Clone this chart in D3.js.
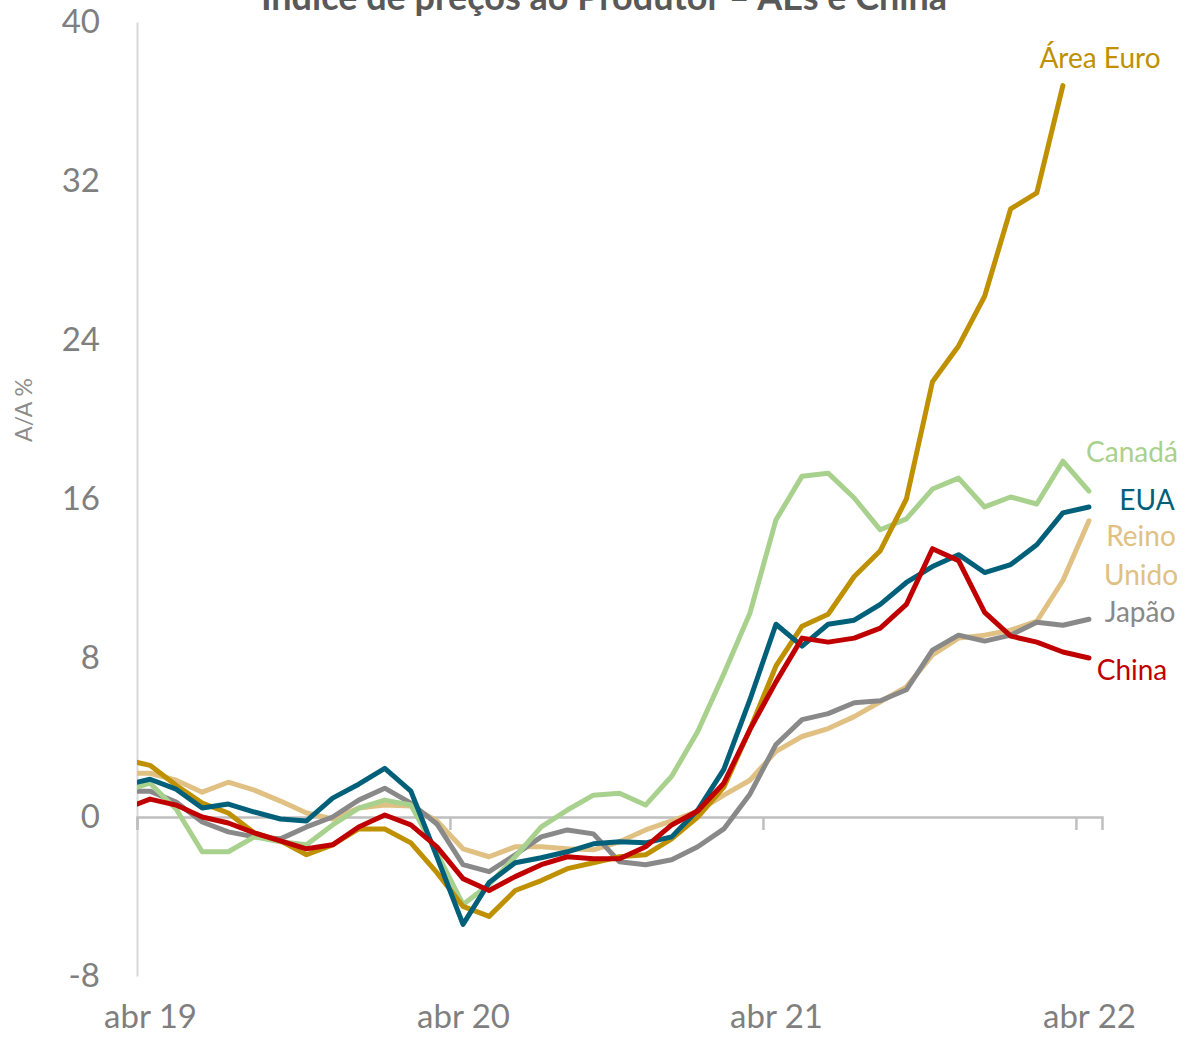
<!DOCTYPE html>
<html>
<head>
<meta charset="utf-8">
<script src="https://cdn.jsdelivr.net/npm/d3@7"></script>
<style>
  body { margin: 0; background: #fff; }
  svg text { font-family: Lato, "Open Sans", sans-serif; }
</style>
</head>
<body>
<svg id="chart" width="1186" height="1044"></svg>
<script>
// months from mar 19 (index -1) to abr 22 (index 36)
const startIdx = -1;
const xLabels = ["abr 19", "abr 20", "abr 21", "abr 22"];
const yTicks = [-8, 0, 8, 16, 24, 32, 40];

const areaEuro = [2.9, 2.6, 1.6, 0.7, 0.2, -0.8, -1.2, -1.9, -1.4, -0.6, -0.6, -1.3, -2.8, -4.5, -5.0, -3.7, -3.2, -2.6, -2.3, -2.0, -1.9, -1.1, 0.0, 1.5, 4.4, 7.6, 9.6, 10.2, 12.1, 13.4, 16.0, 21.9, 23.7, 26.2, 30.6, 31.4, 36.8, null];
const eua = [1.6, 1.9, 1.4, 0.45, 0.65, 0.25, -0.1, -0.2, 0.95, 1.65, 2.45, 1.3, -2.0, -5.4, -3.3, -2.3, -2.05, -1.75, -1.35, -1.25, -1.3, -1.0, 0.35, 2.4, 5.9, 9.7, 8.6, 9.7, 9.9, 10.7, 11.8, 12.6, 13.2, 12.3, 12.7, 13.7, 15.3, 15.6];
const canada = [1.3, 1.7, 0.4, -1.75, -1.75, -1.0, -1.25, -1.4, -0.4, 0.45, 0.85, 0.6, -1.8, -4.4, -3.4, -2.0, -0.5, 0.35, 1.1, 1.2, 0.6, 2.05, 4.3, 7.2, 10.25, 14.95, 17.15, 17.3, 16.05, 14.45, 15.0, 16.5, 17.05, 15.6, 16.1, 15.75, 17.9, 16.4];
const reinoUnido = [2.2, 2.2, 1.85, 1.25, 1.75, 1.35, 0.8, 0.2, -0.1, 0.45, 0.6, 0.55, -0.2, -1.6, -2.0, -1.5, -1.5, -1.6, -1.65, -1.25, -0.65, -0.2, 0.3, 1.1, 1.85, 3.3, 4.05, 4.45, 5.05, 5.8, 6.55, 8.15, 9.0, 9.15, 9.4, 9.85, 11.9, 14.9];
const japao = [1.3, 1.3, 0.75, -0.25, -0.75, -1.0, -1.1, -0.5, 0.0, 0.85, 1.45, 0.7, -0.35, -2.4, -2.75, -1.9, -1.0, -0.65, -0.85, -2.25, -2.4, -2.15, -1.5, -0.6, 1.15, 3.65, 4.9, 5.2, 5.75, 5.85, 6.4, 8.4, 9.15, 8.85, 9.15, 9.8, 9.65, 9.95];
const china = [0.4, 0.9, 0.6, 0.0, -0.3, -0.8, -1.2, -1.6, -1.4, -0.5, 0.1, -0.4, -1.5, -3.1, -3.7, -3.0, -2.4, -2.0, -2.1, -2.1, -1.5, -0.4, 0.3, 1.7, 4.4, 6.8, 9.0, 8.8, 9.0, 9.5, 10.7, 13.5, 12.9, 10.3, 9.1, 8.8, 8.3, 8.0];

const seriesNames = ["Reino Unido", "Japão", "Canadá", "Área Euro", "EUA", "China"];
const seriesValues = [reinoUnido, japao, canada, areaEuro, eua, china];
const seriesColors = ["#E0C183", "#898989", "#A9D18E", "#BF9000", "#00607A", "#C00000"];

// label placement (hand placed like in the original)
const labels = [
  {lines: ["Área Euro"], color: "#BF9000", x: 1100, y: 68},
  {lines: ["Canadá"], color: "#A9D18E", x: 1132, y: 462},
  {lines: ["EUA"], color: "#00607A", x: 1147, y: 510},
  {lines: ["Reino", "Unido"], color: "#E0C183", x: 1141, y: 546},
  {lines: ["Japão"], color: "#898989", x: 1140, y: 622},
  {lines: ["China"], color: "#C00000", x: 1132, y: 680}
];

const svg = d3.select("#chart");

const x = d3.scaleLinear().domain([-0.5, 36.5]).range([137, 1102]);
const y = d3.scaleLinear().domain([-8, 40]).range([976, 22]);

// title (partly cut off at the top, as in the original)
svg.append("text")
  .attr("x", 604)
  .attr("y", 10)
  .attr("text-anchor", "middle")
  .style("font-size", "36px")
  .style("font-weight", "bold")
  .style("fill", "#595959")
  .text("Índice de preços ao Produtor – AEs e China");

// y axis
let yAxis = svg.append("g")
  .attr("transform", "translate(137,0)")
  .call(d3.axisLeft(y).tickValues(yTicks).tickSize(0).tickPadding(37).tickFormat(d => String(d)));
yAxis.select(".domain").attr("stroke", "#D9D9D9").attr("stroke-width", 2);
yAxis.selectAll("text")
  .style("font-size", "33px")
  .style("fill", "#7F7F7F")
  .style("font-family", "Lato, sans-serif");

svg.append("text")
  .attr("transform", "translate(32,410) rotate(-90)")
  .attr("text-anchor", "middle")
  .style("font-size", "23px")
  .style("fill", "#8C8C8C")
  .text("A/A %");

// zero line with yearly tick marks
let xAxis = svg.append("g")
  .attr("transform", "translate(0," + y(0) + ")")
  .call(d3.axisBottom(x).tickValues([-0.5, 11.5, 23.5, 35.5]).tickSize(13).tickFormat(""));
xAxis.select(".domain").attr("stroke", "#BFBFBF").attr("stroke-width", 2.5);
xAxis.selectAll(".tick line").attr("stroke", "#BFBFBF").attr("stroke-width", 2.5);

// x labels at the bottom
let xLab = svg.append("g")
  .attr("transform", "translate(0,1002)")
  .call(d3.axisBottom(x).tickValues([0, 12, 24, 36]).tickSize(0).tickFormat((d, i) => xLabels[i]));
xLab.select(".domain").remove();
xLab.selectAll("text")
  .style("font-size", "33px")
  .style("fill", "#7F7F7F")
  .style("font-family", "Lato, sans-serif");

// lines
svg.append("clipPath").attr("id", "plotclip")
  .append("rect").attr("x", 137).attr("y", 0).attr("width", 1049).attr("height", 1044);

const line = d3.line()
  .defined(d => d != null)
  .x((d, i) => x(i + startIdx))
  .y(d => y(d));

svg.append("g").attr("clip-path", "url(#plotclip)")
  .selectAll("path")
  .data(seriesValues)
  .join("path")
  .attr("d", d => line(d))
  .attr("fill", "none")
  .attr("stroke", (d, i) => seriesColors[i])
  .attr("stroke-width", 5)
  .attr("stroke-linejoin", "round")
  .attr("stroke-linecap", "round");

// series labels
labels.forEach(function(l) {
  let t = svg.append("text")
    .attr("x", l.x)
    .attr("y", l.y)
    .attr("text-anchor", "middle")
    .style("font-size", "28px")
    .style("fill", l.color);
  l.lines.forEach(function(s, k) {
    t.append("tspan").attr("x", l.x).attr("dy", k == 0 ? 0 : 39).text(s);
  });
});
</script>
</body>
</html>
